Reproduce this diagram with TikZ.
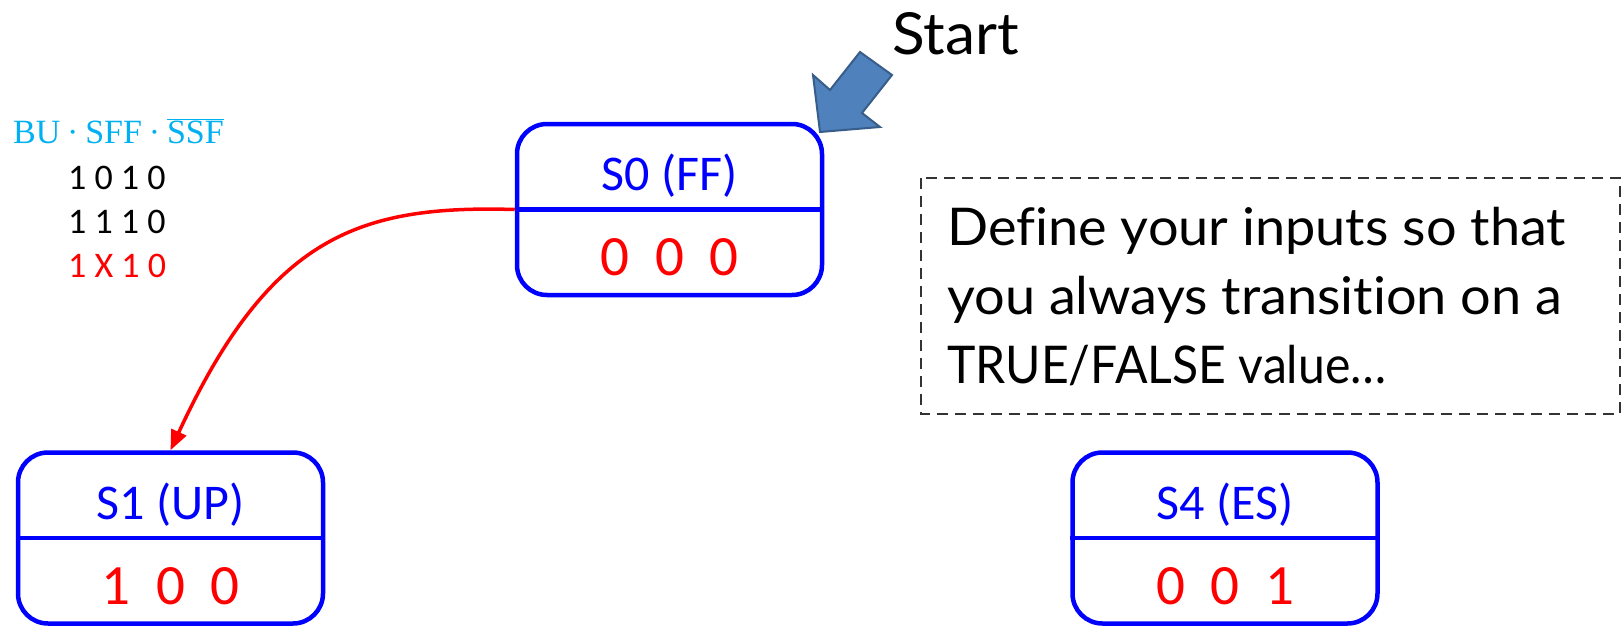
\documentclass[tikz,border=0pt]{standalone}
\usepackage{fontspec}
\usepackage{graphicx}
\setmainfont{Carlito}
\newfontfamily\notefont[FakeStretch=1.04, Ligatures=NoCommon]{Lato}
\newfontfamily\exprfont{Liberation Serif}
\usetikzlibrary{arrows.meta}
\definecolor{stateblue}{HTML}{0000FF}
\definecolor{outred}{HTML}{FF0000}
\definecolor{exprcyan}{HTML}{00B0F0}
\definecolor{startfill}{HTML}{4F81BD}
\definecolor{startedge}{HTML}{385D8A}
\begin{document}
\begin{tikzpicture}[x=1pt,y=-1pt,
  statebox/.style={draw=stateblue, line width=4.5pt, rounded corners=30pt,
    minimum width=305pt, minimum height=171pt, inner sep=0pt},
  divider/.style={draw=stateblue, line width=4.5pt},
  statename/.style={anchor=base, text=stateblue, inner sep=0pt,
    font=\fontsize{50}{60}\selectfont},
  stateout/.style={anchor=base, text=outred, inner sep=0pt,
    font=\fontsize{57}{68}\selectfont},
  inrow/.style={anchor=base west, inner sep=0pt, font=\fontsize{36}{44}\selectfont},
  notetext/.style={anchor=base west, inner sep=0pt, font=\notefont\fontsize{52}{69}\selectfont},
  transition/.style={draw=outred, line width=3.5pt, -{Triangle[length=20pt,width=16pt]}}]
\useasboundingbox (0,0) rectangle (1623,626);

% states
\node[statebox] (s0) at (669.5,209.5) {};
\node[statebox] (s1) at (170.5,538) {};
\node[statebox] (s4) at (1225,538) {};
\foreach \s in {s0,s1,s4} \draw[divider] (\s.west) -- (\s.east);

\node[statename] (s0n) at ([yshift=19pt]s0.center) {S0 (FF)};
\node[stateout]  (s0o) at ([yshift=-66pt]s0.center) {0\hspace{0.45em}0\hspace{0.45em}0};
\node[statename] (s1n) at ([yshift=19pt]s1.center) {S1 (UP)};
\node[stateout]  (s1o) at ([yshift=-66pt]s1.center) {1\hspace{0.45em}0\hspace{0.45em}0};
\node[statename] (s4n) at ([yshift=19pt]s4.center) {S4 (ES)};
\node[stateout]  (s4o) at ([yshift=-66pt]s4.center) {0\hspace{0.45em}0\hspace{0.45em}1};

% start marker
\node[anchor=base west, inner sep=0pt, font=\notefont\fontsize{58}{70}\selectfont] (start) at (892,55) {Start};
\draw[fill=startfill, draw=startedge, line width=2pt, line join=miter]
  (813,75) -- (830,90) -- (860,52) -- (892,75) -- (862,113) -- (880,127) -- (820,132) -- cycle;

% input expression and rows
\node[anchor=base west, inner sep=0pt, text=exprcyan, font=\exprfont\fontsize{34}{40}\selectfont] (expr) at (13,143)
  {BU\hspace{0.2em}·\hspace{0.2em}SFF\hspace{0.2em}·\hspace{0.2em}$\overline{\mbox{SSF}}$};
\node[inrow] (r1) at (68,189) {1 0 1 0};
\node[inrow] (r2) at (68,233) {1 1 1 0};
\node[inrow, text=outred] (r3) at (68,277) {1 X 1 0};

% transition S0 -> S1
\draw[transition] (s0.west) .. controls (360,205) and (270,235) .. (s1.north);

% note
\draw[dashed, dash pattern=on 11pt off 7pt, line width=1.5pt, draw=black!80] (921,178) rectangle (1620,414);
\node[notetext] (n1) at (947,245) {Define your inputs so that};
\node[notetext] (n2) at (947,314) {you always transition on a};
\node[notetext] (n3) at (947,383) {\scalebox{0.89}[1]{TRUE/FALSE value…}};
\end{tikzpicture}
\end{document}
